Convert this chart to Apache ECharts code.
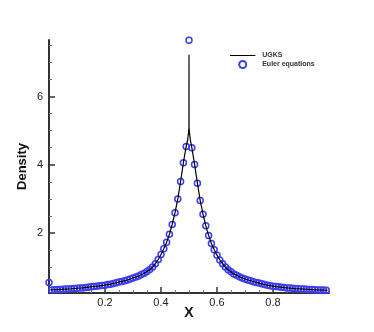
<!DOCTYPE html>
<html>
<head>
<meta charset="utf-8">
<script src="https://cdn.jsdelivr.net/npm/echarts@6/dist/echarts.min.js"></script>
<style>
  html, body { margin: 0; padding: 0; background: #fff; }
  #chart { width: 374px; height: 332px; }
</style>
</head>
<body>
<div id="chart"></div>
<script>
// Euler equations (circles)
var eulerX = [
  0.00, 0.01, 0.02, 0.03, 0.04, 0.05, 0.06, 0.07, 0.08, 0.09,
  0.10, 0.11, 0.12, 0.13, 0.14, 0.15, 0.16, 0.17, 0.18, 0.19,
  0.20, 0.21, 0.22, 0.23, 0.24, 0.25, 0.26, 0.27, 0.28, 0.29,
  0.30, 0.31, 0.32, 0.33, 0.34, 0.35, 0.36, 0.37, 0.38, 0.39,
  0.40, 0.41, 0.42, 0.43, 0.44, 0.45, 0.46, 0.47, 0.48, 0.49,
  0.50, 0.51, 0.52, 0.53, 0.54, 0.55, 0.56, 0.57, 0.58, 0.59,
  0.60, 0.61, 0.62, 0.63, 0.64, 0.65, 0.66, 0.67, 0.68, 0.69,
  0.70, 0.71, 0.72, 0.73, 0.74, 0.75, 0.76, 0.77, 0.78, 0.79,
  0.80, 0.81, 0.82, 0.83, 0.84, 0.85, 0.86, 0.87, 0.88, 0.89,
  0.90, 0.91, 0.92, 0.93, 0.94, 0.95, 0.96, 0.97, 0.98, 0.99
];
var eulerY = [
  0.55, 0.33, 0.335, 0.34, 0.345, 0.35, 0.355, 0.36, 0.365, 0.37,
  0.38, 0.385, 0.39, 0.40, 0.41, 0.42, 0.43, 0.44, 0.45, 0.46,
  0.47, 0.49, 0.50, 0.52, 0.54, 0.56, 0.58, 0.60, 0.62, 0.65,
  0.68, 0.71, 0.74, 0.78, 0.82, 0.87, 0.93, 1.00, 1.10, 1.22,
  1.37, 1.54, 1.73, 1.96, 2.25, 2.59, 3.00, 3.51, 4.06, 4.54,
  7.65, 4.50, 4.01, 3.46, 2.95, 2.55, 2.21, 1.93, 1.69, 1.51,
  1.35, 1.21, 1.10, 1.00, 0.92, 0.86, 0.80, 0.76, 0.72, 0.68,
  0.65, 0.62, 0.60, 0.57, 0.55, 0.53, 0.51, 0.49, 0.47, 0.455,
  0.44, 0.43, 0.42, 0.41, 0.40, 0.39, 0.385, 0.38, 0.37, 0.365,
  0.36, 0.355, 0.35, 0.345, 0.34, 0.335, 0.33, 0.33, 0.325, 0.32
];

// UGKS (solid line)
var ugksX = [
  0.005, 0.02, 0.04, 0.06, 0.08, 0.10, 0.12, 0.14, 0.16, 0.18,
  0.20, 0.22, 0.24, 0.26, 0.28, 0.30, 0.32, 0.34, 0.36, 0.37,
  0.38, 0.39, 0.40, 0.41, 0.42, 0.43, 0.44, 0.45, 0.46, 0.47,
  0.48, 0.49, 0.495, 0.4985, 0.4998, 0.50, 0.5002, 0.5015, 0.505, 0.51,
  0.52, 0.53, 0.54, 0.55, 0.56, 0.57, 0.58, 0.59, 0.60, 0.61,
  0.62, 0.63, 0.64, 0.66, 0.68, 0.70, 0.72, 0.74, 0.76, 0.78,
  0.80, 0.82, 0.84, 0.86, 0.88, 0.90, 0.92, 0.94, 0.96, 0.98, 0.995
];
var ugksY = [
  0.33, 0.335, 0.345, 0.355, 0.365, 0.38, 0.39, 0.41, 0.43, 0.45,
  0.47, 0.50, 0.54, 0.58, 0.62, 0.68, 0.74, 0.82, 0.93, 1.00,
  1.10, 1.22, 1.37, 1.54, 1.73, 1.96, 2.25, 2.59, 3.00, 3.51,
  4.06, 4.55, 4.72, 4.95, 5.10, 7.23, 5.10, 4.95, 4.72, 4.51,
  4.01, 3.46, 2.95, 2.55, 2.21, 1.93, 1.69, 1.51, 1.35, 1.21,
  1.10, 1.00, 0.92, 0.80, 0.72, 0.65, 0.60, 0.55, 0.51, 0.47,
  0.44, 0.42, 0.40, 0.385, 0.37, 0.36, 0.35, 0.34, 0.33, 0.325, 0.32
];

var xLabels = [0.2, 0.4, 0.6, 0.8];
var xMinor = [0.05, 0.1, 0.15, 0.25, 0.3, 0.35, 0.45, 0.5, 0.55, 0.65, 0.7, 0.75, 0.85, 0.9, 0.95];
var yLabels = [2, 4, 6];
var yMinor = [0.5, 1, 1.5, 2.5, 3, 3.5, 4.5, 5, 5.5, 6.5, 7, 7.5];

var font = "'Liberation Sans', Arial, Helvetica, sans-serif";
var axisColor = '#333';
// plain line legend sample (extra move-to points keep the full item height)
var lineIcon = 'path://M0,0 M0,3.4 L29,3.4 L29,4.6 L0,4.6 Z M29,8';

var chart = echarts.init(document.getElementById('chart'));

var X_MIN = 0, X_MAX = 1.0, Y_MIN = 0.24, Y_MAX = 7.66;

chart.setOption({
  animation: false,
  textStyle: { fontFamily: font },
  grid: { left: 49, right: 45, top: 40, bottom: 39 },
  legend: {
    orient: 'vertical',
    left: 230,
    top: 52,
    padding: 0,
    itemWidth: 29,
    itemHeight: 7,
    itemGap: 1,
    textStyle: { fontSize: 7, fontWeight: 'bold', color: '#333', lineHeight: 7 },
    data: [{ name: 'UGKS', icon: lineIcon }, 'Euler equations']
  },
  xAxis: [{
    type: 'value', min: X_MIN, max: X_MAX,
    name: 'X', nameLocation: 'middle', nameGap: 13, nameMoveOverlap: false,
    nameTextStyle: { fontSize: 14, fontWeight: 'bold', color: '#111' },
    axisLine: { show: true, onZero: false, lineStyle: { color: axisColor, width: 2 } },
    axisTick: { show: true, inside: true, length: 6, customValues: xLabels, lineStyle: { color: axisColor, width: 1.5 } },
    axisLabel: { customValues: xLabels, fontSize: 11, color: '#222', margin: 4 },
    splitLine: { show: false }
  }, {
    type: 'value', min: X_MIN, max: X_MAX, position: 'bottom',
    axisLine: { show: false },
    axisTick: { show: true, inside: true, length: 3, customValues: xMinor, lineStyle: { color: '#777', width: 1 } },
    axisLabel: { show: false },
    splitLine: { show: false }
  }],
  yAxis: [{
    type: 'value', min: Y_MIN, max: Y_MAX,
    name: 'Density', nameLocation: 'middle', nameGap: 20, nameMoveOverlap: false,
    nameTextStyle: { fontSize: 13, fontWeight: 'bold', color: '#111' },
    axisLine: { show: true, onZero: false, lineStyle: { color: axisColor, width: 2 } },
    axisTick: { show: true, inside: true, length: 6, customValues: yLabels, lineStyle: { color: axisColor, width: 1.5 } },
    axisLabel: { customValues: yLabels, fontSize: 11, color: '#222', margin: 6 },
    splitLine: { show: false }
  }, {
    type: 'value', min: Y_MIN, max: Y_MAX, position: 'left',
    axisLine: { show: false },
    axisTick: { show: true, inside: true, length: 3, customValues: yMinor, lineStyle: { color: '#777', width: 1 } },
    axisLabel: { show: false },
    splitLine: { show: false }
  }],
  series: [{
    name: 'Euler equations',
    type: 'scatter',
    clip: false,
    symbol: 'circle',
    symbolSize: 6,
    itemStyle: { color: 'rgba(255,255,255,0)', borderColor: '#3c3cf5', borderWidth: 1.5, opacity: 1 },
    data: eulerX.map(function (x, i) { return [x, eulerY[i]]; }),
    z: 2
  }, {
    name: 'UGKS',
    type: 'line',
    symbol: 'none',
    showSymbol: false,
    lineStyle: { color: '#000', width: 1.2 },
    itemStyle: { color: '#000' },
    data: ugksX.map(function (x, i) { return [x, ugksY[i]]; }),
    z: 3
  }]
});
</script>
</body>
</html>
